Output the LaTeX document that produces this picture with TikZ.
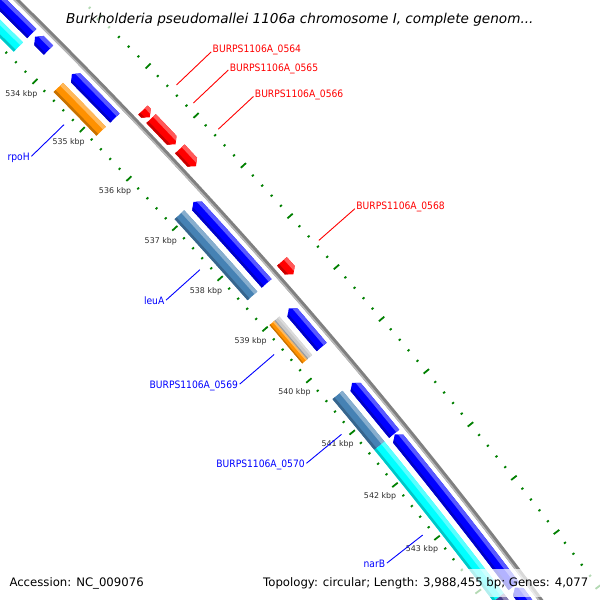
\documentclass[tikz,border=0pt]{standalone}
\usepackage{fontspec}
\setmainfont{DejaVu Sans}
\newfontfamily\labfont[FakeStretch=0.9]{DejaVu Sans}
\definecolor{cgblue}{RGB}{0,0,255}
\definecolor{cgred}{RGB}{255,0,0}
\definecolor{cgorange}{RGB}{255,145,0}
\definecolor{cgsteel}{RGB}{70,130,180}
\definecolor{cgcyan}{RGB}{0,255,255}
\definecolor{cggray}{RGB}{200,200,200}
\definecolor{cgslate}{RGB}{72,61,139}
\definecolor{tickgreen}{RGB}{0,128,0}
\definecolor{backbone}{RGB}{128,128,128}
\definecolor{ticktext}{RGB}{45,45,45}
\newcommand{\tiplen}{0.06}
% point on the map at angle #1, distance #2 from the centre of the circle
\newcommand{\mappt}[2]{({-3624.5+(#2)*cos(#1)},{3709+(#2)*sin(#1)})}
\newcommand{\bandpath}[4]{\mappt{#1}{#3} arc[start angle=#1,end angle=#2,radius=#3] -- \mappt{#2}{#4} arc[start angle=#2,end angle=#1,radius=#4] -- cycle}
\newcommand{\boxout}{\bandpath{\cgA}{\cgZ}{\cgIn}{\cgOut}}
\newcommand{\fwdout}{\mappt{\cgA}{\cgIn} arc[start angle=\cgA,end angle=\cgF,radius=\cgIn] -- \mappt{\cgZ}{\cgM} -- \mappt{\cgF}{\cgOut} arc[start angle=\cgF,end angle=\cgA,radius=\cgOut] -- cycle}
\newcommand{\revout}{\mappt{\cgA}{\cgM} -- \mappt{\cgR}{\cgIn} arc[start angle=\cgR,end angle=\cgZ,radius=\cgIn] -- \mappt{\cgZ}{\cgOut} arc[start angle=\cgZ,end angle=\cgR,radius=\cgOut] -- cycle}
% #1 outline, #2 from kbp, #3 to kbp, #4 inner radius, #5 outer radius, #6 colour
\newcommand{\gene}[6]{%
  \pgfmathsetmacro\cgA{kb(#2)}\pgfmathsetmacro\cgZ{kb(#3)}%
  \def\cgIn{#4}\def\cgOut{#5}%
  \pgfmathsetmacro\cgM{(#4+#5)/2}%
  \pgfmathsetmacro\cgF{\cgZ-\tiplen}\pgfmathsetmacro\cgR{\cgA+\tiplen}%
  \pgfmathsetmacro\cgL{#5-0.3*(#5-#4)}\pgfmathsetmacro\cgD{#4+0.2*(#5-#4)}%
  \pgfmathsetmacro\cgT{#5+1}\pgfmathsetmacro\cgB{#4-1}%
  \pgfmathsetmacro\cgAA{\cgA-0.1}\pgfmathsetmacro\cgZZ{\cgZ+0.1}%
  \fill[#6] #1;
  \begin{scope}
    \clip #1;
    \fill[#6!65!white] \bandpath{\cgAA}{\cgZZ}{\cgL}{\cgT};
    \fill[#6!78!black] \bandpath{\cgAA}{\cgZZ}{\cgB}{\cgD};
  \end{scope}}

\begin{document}
\begin{tikzpicture}[x=1pt,y=1pt,yscale=-1,line join=round,
  declare function={kb(\q)=-44.75+0.752*(\q-534);},
  ruletick/.style={tickgreen,line width=1.8},
  ticklab/.style={ticktext,font=\fontsize{7.9}{9}\selectfont,inner sep=0},
  genelab/.style={font=\labfont\fontsize{10.2}{12}\selectfont,inner sep=0},
  leader/.style={line width=0.9}]
\useasboundingbox (0,0) rectangle (600,600);
\clip (0,0) rectangle (600,600);
\fill[white] (0,0) rectangle (600,600);

\foreach \k in {0,...,75}{
  \pgfmathsetmacro\ta{kb(532+0.2*\k)}
  \pgfmathsetmacro\tl{mod(\k,5)==0 ? 3.5 : 1.2}
  \pgfmathsetmacro\tr{5244.5+(\ta+44)}
  \draw[ruletick] \mappt{\ta}{5153-\tl} -- \mappt{\ta}{5153+\tl};
  \draw[ruletick] \mappt{\ta}{\tr-\tl} -- \mappt{\ta}{\tr+\tl};
}
\foreach \p in {534,...,543}{
  \pgfmathsetmacro\ta{kb(\p)}
  \path \mappt{\ta}{5134} node[ticklab] (kbp\p) {\p\ kbp};
}

\draw[backbone,line width=4.5] \mappt{-47}{5197.5} arc[start angle=-47,end angle=-35,radius=5197.5];
\draw[backbone!55!white,line width=1.5] \mappt{-47}{5196} arc[start angle=-47,end angle=-35,radius=5196];

\gene{\boxout}{531}{533.468}{5178}{5191}{cgblue}
\gene{\revout}{533.535}{533.814}{5178}{5191}{cgblue}
\gene{\revout}{534.306}{535.210}{5178}{5191}{cgblue}
\gene{\revout}{536.899}{538.508}{5178}{5191}{cgblue}
\gene{\revout}{539.0}{539.745}{5178}{5191}{cgblue}
\gene{\revout}{540.436}{541.407}{5178}{5191}{cgblue}
\gene{\revout}{541.420}{544.253}{5178}{5191}{cgblue}
\gene{\revout}{544.28}{547}{5178}{5191}{cgblue}

\gene{\boxout}{531}{533.468}{5159}{5172}{cgcyan}
\gene{\boxout}{534.306}{535.210}{5159}{5172}{cgorange}
\gene{\boxout}{536.899}{538.508}{5159}{5172}{cgsteel}
\gene{\boxout}{539.0}{539.745}{5159}{5165.5}{cgorange}
\gene{\boxout}{539.0}{539.745}{5165.5}{5172}{cggray}
\gene{\boxout}{540.436}{541.407}{5159}{5172}{cgsteel}
\gene{\boxout}{541.407}{544.253}{5159}{5172}{cgcyan}
\gene{\boxout}{544.253}{547}{5159}{5172}{cgslate}

\gene{\fwdout}{535.410}{535.556}{5204}{5217}{cgred}
\gene{\fwdout}{535.582}{536.101}{5204}{5217}{cgred}
\gene{\fwdout}{536.194}{536.540}{5204}{5217}{cgred}
\gene{\fwdout}{538.415}{538.668}{5204}{5217}{cgred}

\foreach \nm/\pa/\pb in {0564/535.410/535.556,0565/535.582/536.101,0566/536.194/536.540,0568/538.415/538.668}{
  \pgfmathsetmacro\ta{kb((\pa+\pb)/2)}
  \path \mappt{\ta}{5252} coordinate (\nm-at) \mappt{\ta}{5300} coordinate (\nm-out);
  \draw[leader,cgred] (\nm-at) -- (\nm-out);
  \node[genelab,cgred,anchor=base west] (\nm) at ([shift={(1.3,1)}]\nm-out) {BURPS1106A\_\nm};
}
\foreach \nm/\pa/\pb/\txt in {rpoH/534.306/535.210/rpoH,leuA/536.899/538.508/leuA,
    0569/539.0/539.745/BURPS1106A\_0569,0570/540.436/541.407/BURPS1106A\_0570,narB/541.420/544.253/narB}{
  \pgfmathsetmacro\ta{kb((\pa+\pb)/2)}
  \path \mappt{\ta}{5143.5} coordinate (\nm-at) \mappt{\ta}{5098} coordinate (\nm-in);
  \draw[leader,cgblue] (\nm-at) -- (\nm-in);
  \node[genelab,cgblue,anchor=base east] (\nm) at ([shift={(-1.5,4.5)}]\nm-in) {\txt};
}

\fill[white,opacity=0.7] (61,5) rectangle (538,32);
\fill[white,opacity=0.7] (257,569) rectangle (600,597);
\node[anchor=base west,inner sep=0,font=\fontsize{13.6}{16}\selectfont\itshape] (title) at (66,23.3) {Burkholderia pseudomallei 1106a chromosome I, complete genom...};
\node[anchor=base west,inner sep=0,font=\fontsize{11.7}{14}\selectfont] (acc) at (9.3,586.7) {Accession: NC\_009076};
\node[anchor=base east,inner sep=0,font=\fontsize{11.7}{14}\selectfont] (topo) at (588.5,586.7) {Topology: circular; Length: 3,988,455 bp; Genes: 4,077};
\end{tikzpicture}
\end{document}
